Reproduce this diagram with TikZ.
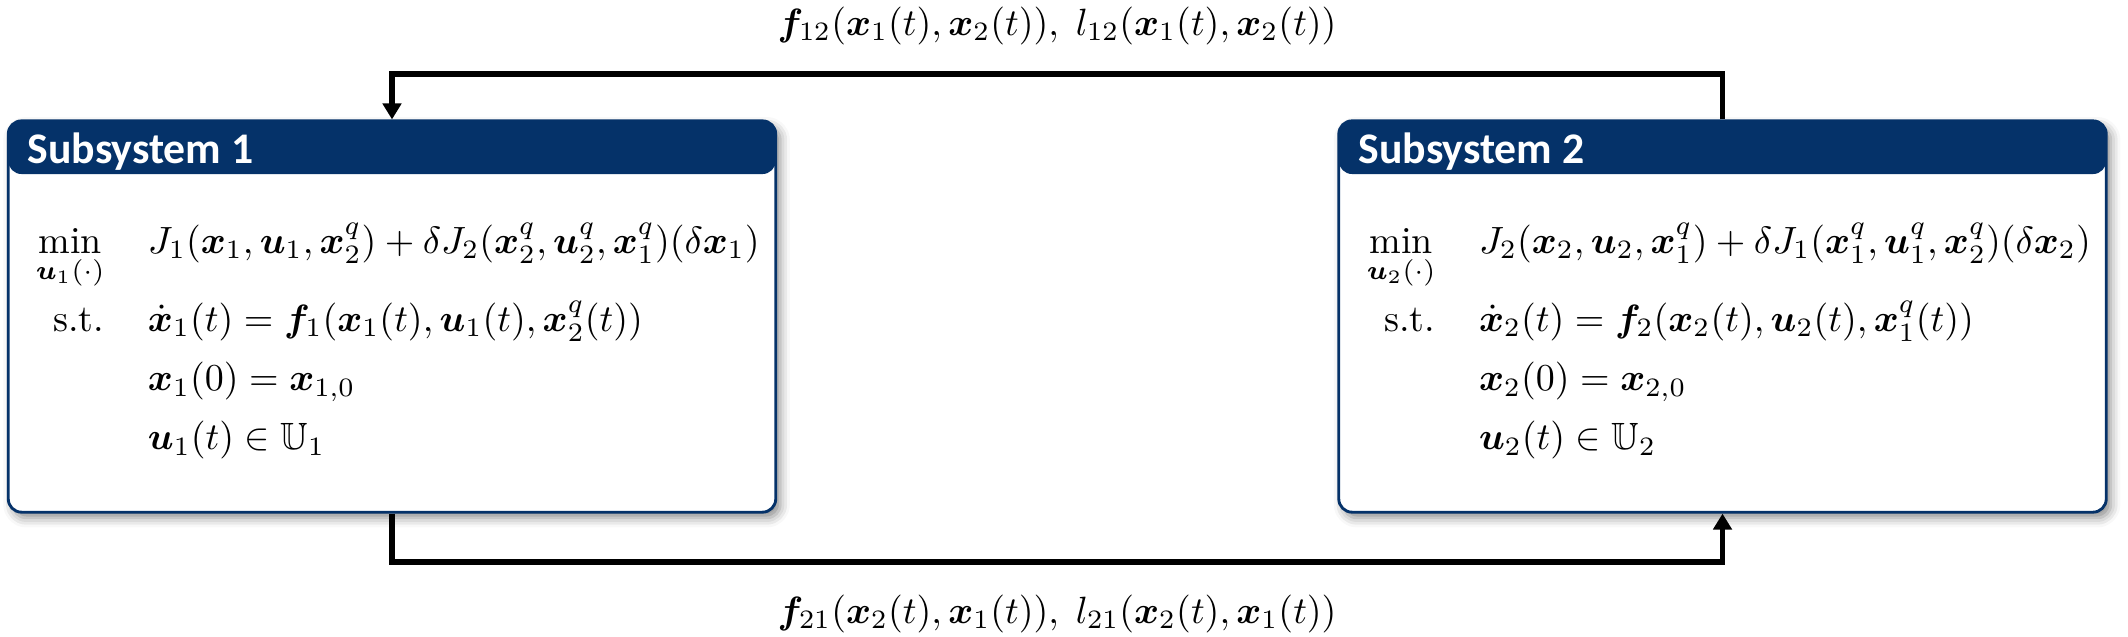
\documentclass[tikz,border=0pt]{standalone}
\usepackage{amsmath,amssymb,bm}
\usepackage{fontspec}
\newfontfamily\headfont{Carlito}
\usetikzlibrary{arrows.meta,shadows.blur}
\definecolor{headblue}{RGB}{5,50,105}

\begin{document}
\begin{tikzpicture}[x=0.2632pt,y=-0.2632pt]
        \tikzset{subbox/.style={draw=headblue, line width=0.75pt, fill=white,
                rounded corners=3.5pt, minimum width=202pt, minimum height=103pt,
                blur shadow={shadow xshift=1.2pt, shadow yshift=-1.5pt,
                    shadow blur radius=2.5pt, shadow opacity=45},
                path picture={\fill[headblue] (path picture bounding box.north west)
                    rectangle ([yshift=-14pt]path picture bounding box.north east);}},
            headtxt/.style={anchor=base west, text=white, inner sep=0pt,
                font={\headfont\bfseries\fontsize{11.5}{13}\selectfont}},
            optprob/.style={anchor=base west, inner sep=0pt},
            link/.style={line width=1.5pt, -{Triangle[length=4.2pt,width=4.8pt]}},
            flowlbl/.style={anchor=base, inner sep=0pt}}
        \useasboundingbox (0,0) rectangle (2128,636);
        % the two subsystems
        \node[subbox] (sub1) at (392,316.5) {};
        \node[subbox] (sub2) at (1722.5,316.5) {};
        \node[headtxt] (head1) at (27,163) {Subsystem 1};
        \node[headtxt] (head2) at (1358,163) {Subsystem 2};
        \node[optprob] (prob1) at (35,253) {$\renewcommand{\arraystretch}{1.3}%
            \begin{array}[t]{@{}r@{\hspace{11.5pt}}l@{}}
                \displaystyle\min_{\bm{u}_1(\cdot)} & J_1(\bm{x}_1,\bm{u}_1,\bm{x}_2^q)+\delta J_2(\bm{x}_2^q,\bm{u}_2^q,\bm{x}_1^q)(\delta\bm{x}_1)\\[3.5pt]
                \text{s.t.} & \dot{\bm{x}}_1(t)=\bm{f}_1(\bm{x}_1(t),\bm{u}_1(t),\bm{x}_2^q(t))\\
                & \bm{x}_1(0)=\bm{x}_{1,0}\\
                & \bm{u}_1(t)\in\mathbb{U}_1
            \end{array}$};
        \node[optprob] (prob2) at (1366,253) {$\renewcommand{\arraystretch}{1.3}%
            \begin{array}[t]{@{}r@{\hspace{11.5pt}}l@{}}
                \displaystyle\min_{\bm{u}_2(\cdot)} & J_2(\bm{x}_2,\bm{u}_2,\bm{x}_1^q)+\delta J_1(\bm{x}_1^q,\bm{u}_1^q,\bm{x}_2^q)(\delta\bm{x}_2)\\[3.5pt]
                \text{s.t.} & \dot{\bm{x}}_2(t)=\bm{f}_2(\bm{x}_2(t),\bm{u}_2(t),\bm{x}_1^q(t))\\
                & \bm{x}_2(0)=\bm{x}_{2,0}\\
                & \bm{u}_2(t)\in\mathbb{U}_2
            \end{array}$};
        % coupling between them
        \coordinate (toprail) at (1057,74);
        \coordinate (botrail) at (1057,562);
        \draw[link] (sub2.north) |- (toprail) -| (sub1.north);
        \draw[link] (sub1.south) |- (botrail) -| (sub2.south);
        \node[flowlbl] (lbl12) at (1057,35) {$\bm{f}_{12}(\bm{x}_1(t),\bm{x}_2(t)),\;l_{12}(\bm{x}_1(t),\bm{x}_2(t))$};
        \node[flowlbl] (lbl21) at (1057,623) {$\bm{f}_{21}(\bm{x}_2(t),\bm{x}_1(t)),\;l_{21}(\bm{x}_2(t),\bm{x}_1(t))$};
    \end{tikzpicture}
\end{document}
